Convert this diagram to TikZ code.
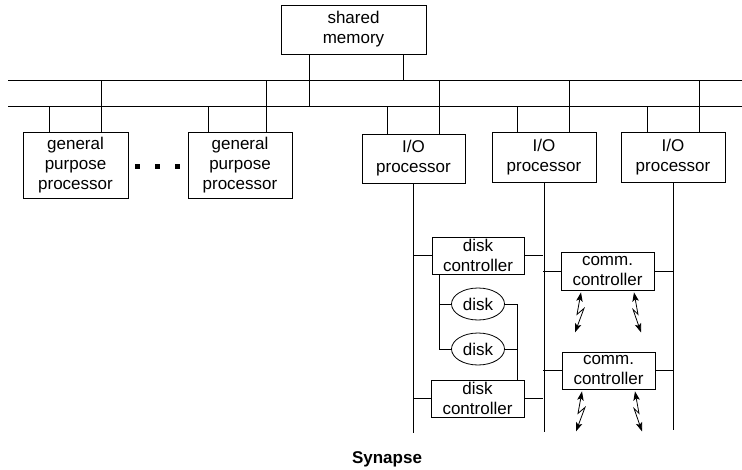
\documentclass[tikz,border=0pt]{standalone}
\usepackage{fontspec}
\setmainfont{Liberation Sans}
\usetikzlibrary{arrows.meta,shapes.geometric}
\begin{document}
\begin{tikzpicture}[x=1pt,y=-1pt,line width=0.8pt,
  font=\fontsize{17}{20}\selectfont,
  unit/.style={draw,align=center,inner sep=0pt,minimum width=#1},
  platter/.style={draw,ellipse,inner sep=0pt,minimum width=53pt,minimum height=32pt},
  dotmark/.style={fill,inner sep=0pt,minimum size=5pt},
  zap/.style={{Stealth[length=9pt,width=6.5pt,inset=2pt]}-{Stealth[length=9pt,width=6.5pt,inset=2pt]},line width=0.8pt}]
\useasboundingbox (0,0) rectangle (742,469);

% the two system buses
\coordinate (uL) at (8,80);   \coordinate (uR) at (742,80);
\coordinate (lL) at (8,106);  \coordinate (lR) at (742,106);
\draw (uL) -- (uR);
\draw (lL) -- (lR);

% memory and processors
\node[unit=145pt,minimum height=49pt] (mem) at (353.5,29.5) {shared\\memory};
\node[unit=105pt,minimum height=66pt] (gp1) at (75.5,165) {general\\purpose\\processor};
\node[unit=104pt,minimum height=66pt] (gp2) at (240,165) {general\\purpose\\processor};
\node[unit=103pt,minimum height=49pt] (io1) at (413.5,158.5) {I/O\\processor};
\node[unit=104pt,minimum height=50pt] (io2) at (544,157) {I/O\\processor};
\node[unit=104pt,minimum height=50pt] (io3) at (673,157) {I/O\\processor};

\node[dotmark] (d1) at (137,166) {};
\node[dotmark] (d2) at (157,166) {};
\node[dotmark] (d3) at (177,166) {};

% bus taps
\coordinate (mA) at ([shift={(-44.5,0)}]mem.south);
\coordinate (mB) at ([shift={(49.5,0)}]mem.south);
\draw (mA) -- (mA |- lL);
\draw (mB) -- (mB |- uL);
\foreach \n/\a/\b in {gp1/-26.5/25.5, gp2/-32/26, io1/-26.5/25.5, io2/-27/25, io3/-26/26}{
  \coordinate (tA) at ([shift={(\a,0)}]\n.north);
  \coordinate (tB) at ([shift={(\b,0)}]\n.north);
  \draw (tA) -- (tA |- lL);
  \draw (tB) -- (tB |- uL);
}

% I/O channels
\coordinate (e1) at (413,433);
\coordinate (e2) at (543,432);
\coordinate (e3) at (673,430);
\draw (io1.south) -- (io1.south |- e1);
\draw (io2.south) -- (io2.south |- e2);
\draw (io3.south) -- (io3.south |- e3);

% controllers and disks
\node[unit=92pt,minimum height=37pt] (dc1) at (478,255.5) {disk\\controller};
\node[unit=93pt,minimum height=37pt] (dc2) at (477.5,398.5) {disk\\controller};
\node[unit=93pt,minimum height=38pt] (cc1) at (607.5,271) {comm.\\controller};
\node[unit=93pt,minimum height=37pt] (cc2) at (608.5,370.5) {comm.\\controller};
\node[platter] (disk1) at (478,304) {disk};
\node[platter] (disk2) at (478,349) {disk};

\draw (dc1.west) -- (dc1.west -| io1.south);
\draw (dc1.east) -- (dc1.east -| e2);
\draw (dc2.west) -- (dc2.west -| io1.south);
\draw (dc2.east) -- (dc2.east -| e2);
\draw (cc1.west) -- (cc1.west -| e2);
\draw (cc1.east) -- (cc1.east -| io3.south);
\draw (cc2.west) -- (cc2.west -| e2);
\draw (cc2.east) -- (cc2.east -| io3.south);

% dual-ported disk wiring
\coordinate (pA) at ([shift={(-39,0)}]dc1.south);
\coordinate (pB) at ([shift={(39.5,0)}]dc2.north);
\draw (pA) |- (disk2.west);
\draw (disk1.west) -- (disk1.west -| pA);
\draw (disk1.east) -| (pB);
\draw (disk2.east) -- (disk2.east -| pB);

% radio links
\foreach \c in {cc1,cc2}{
  \draw[zap] ([shift={(-26.5,2)}]\c.south) -- ++(-4,22) -- ++(7,-6) -- ++(-9,24);
  \draw[zap] ([shift={(26.5,2)}]\c.south) -- ++(4,22) -- ++(-5,-5) -- ++(8,23);
}

\node[font=\fontsize{17}{20}\selectfont\bfseries] (title) at (387,459) {Synapse};
\end{tikzpicture}
\end{document}
